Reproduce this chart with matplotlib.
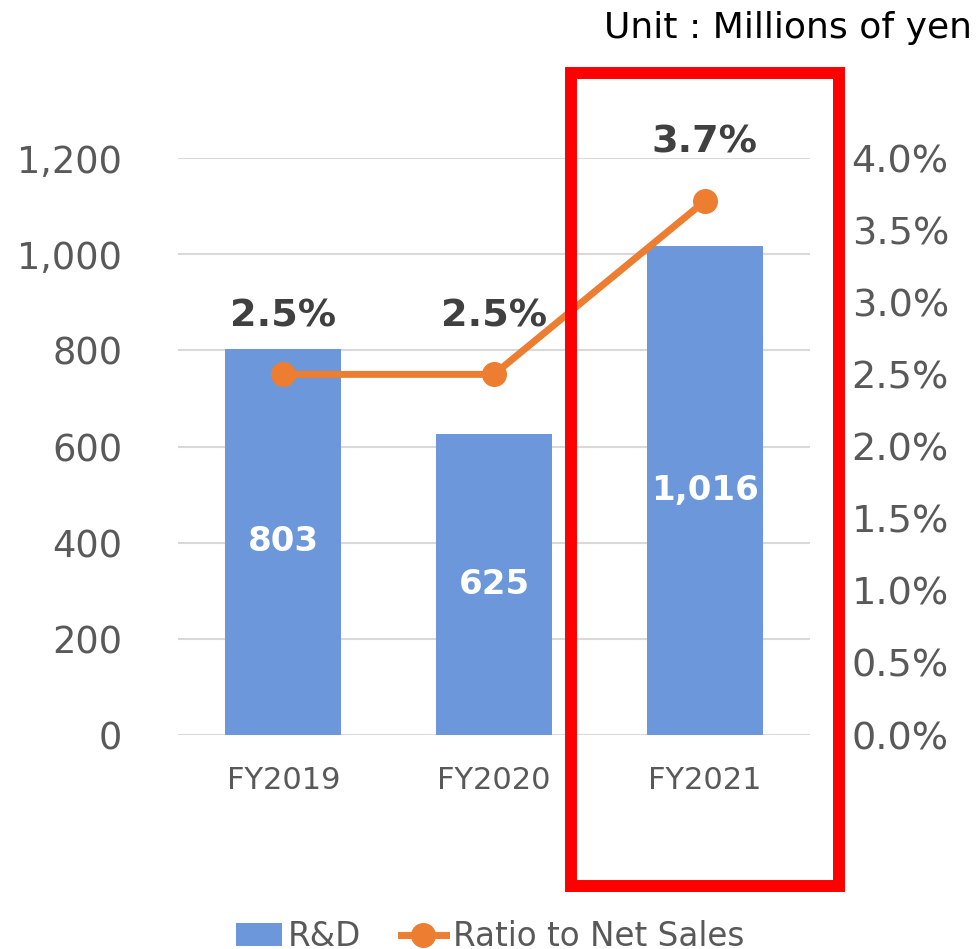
import numpy as np
import matplotlib.pyplot as plt
from matplotlib.patches import Rectangle
from matplotlib.ticker import FuncFormatter

# values
years = ['FY2019', 'FY2020', 'FY2021']
rnd = [803, 625, 1016]          # millions of yen
ratio = [2.5, 2.5, 3.7]         # % of net sales

bar_color = '#6c97db'
line_color = '#ed7d31'
grid_color = '#d9d9d9'
text_gray = '#595959'
label_dark = '#404040'

plt.rcParams['font.family'] = ['DejaVu Sans']

fig = plt.figure(figsize=(9.8, 9.49), dpi=100)
ax = fig.add_axes([0.1816, 0.2255, 0.6449, 0.608])
ax2 = ax.twinx()

x = np.arange(len(years))

# bars
bars = ax.bar(x, rnd, width=0.55, color=bar_color, zorder=2, label='R&D')
for b, v in zip(bars, rnd):
    ax.text(b.get_x() + b.get_width() / 2, v / 2, f'{v:,}', ha='center', va='center',
            color='white', fontsize=24.5, fontweight='bold', zorder=3)

ax.set_xlim(-0.5, 2.5)
ax.set_ylim(0, 1200)
ax.set_yticks(range(0, 1201, 200))
ax.yaxis.set_major_formatter(FuncFormatter(lambda v, p: f'{int(v):,}'))
ax.set_xticks(x)
ax.set_xticklabels(years)
ax.grid(axis='y', color=grid_color, linewidth=1.5, zorder=0)
ax.set_axisbelow(True)
ax.tick_params(axis='y', length=0, pad=40, labelsize=26.5, labelcolor=text_gray)
ax.tick_params(axis='x', length=0, pad=22, labelsize=22, labelcolor=text_gray)
for s in ax.spines.values():
    s.set_visible(False)

# ratio line
ln, = ax2.plot(x, ratio, color=line_color, linewidth=5, marker='o', markersize=17,
               zorder=4, label='Ratio to Net Sales')
for xi, r in zip(x, ratio):
    ax2.annotate(f'{r:.1f}%', (xi, r), xytext=(0, 42), textcoords='offset points',
                 ha='center', va='center', fontsize=27.5, fontweight='bold', color=label_dark)
ax2.set_ylim(0, 4.0)
ax2.set_yticks(np.arange(0, 4.01, 0.5))
ax2.yaxis.set_major_formatter(FuncFormatter(lambda v, p: f'{v:.1f}%'))
ax2.tick_params(axis='y', length=0, pad=30, labelsize=27.5, labelcolor=text_gray)
for s in ax2.spines.values():
    s.set_visible(False)

# highlight box around FY2021
fig.add_artist(Rectangle((571 / 980, 1 - 886 / 949), 268 / 980, 813 / 949,
                         transform=fig.transFigure, fill=False, edgecolor='#ff0000',
                         linewidth=8.6, zorder=10))

fig.text(0.992, 0.97, 'Unit : Millions of yen', ha='right', va='center',
         fontsize=26, color='black')

fig.legend([bars, ln], ['R&D', 'Ratio to Net Sales'], loc='center',
           bbox_to_anchor=(0.5, 0.013), ncol=2, frameon=False, fontsize=23.5,
           labelcolor=text_gray, handlelength=1.4, handletextpad=0.2, columnspacing=1.2)

fig.savefig('out.png', dpi=100)
